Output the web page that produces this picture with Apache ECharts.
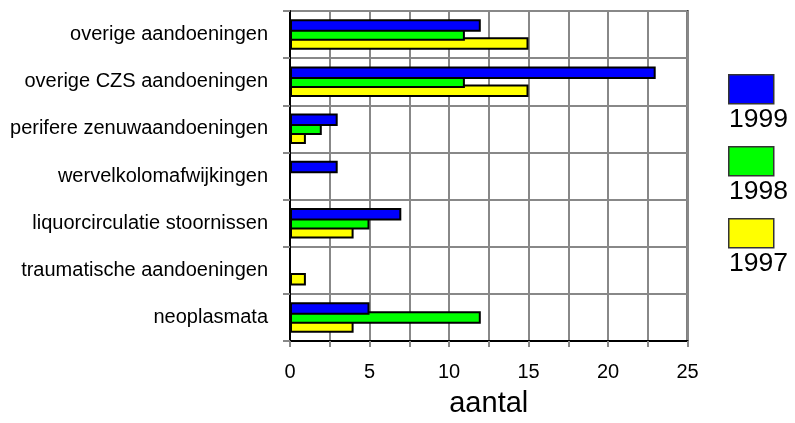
<!DOCTYPE html>
<html>
<head>
<meta charset="utf-8">
<script src="https://cdn.jsdelivr.net/npm/echarts@6/dist/echarts.min.js"></script>
<style>
  html, body { margin: 0; padding: 0; background: #fff; }
  #chart { width: 795px; height: 423px; }
</style>
</head>
<body>
<div id="chart"></div>
<script>
// Categories, listed top to bottom
const categories = [
  'overige aandoeningen',
  'overige CZS aandoeningen',
  'perifere zenuwaandoeningen',
  'wervelkolomafwijkingen',
  'liquorcirculatie stoornissen',
  'traumatische aandoeningen',
  'neoplasmata'
];

// Counts per year, same order as categories
const years = ['1999', '1998', '1997'];
const values1999 = [12, 23, 3, 3, 7, 0, 5];
const values1998 = [11, 11, 2, 0, 5, 0, 12];
const values1997 = [15, 15, 1, 0, 4, 1, 4];
const yearColors = ['#0000ff', '#00ff00', '#ffff00'];

const xTicks = [0, 5, 10, 15, 20, 25];
const xAxisTitle = 'aantal';

const FONT = 'Liberation Sans, Arial, sans-serif';
const seriesValues = [values1999, values1998, values1997];

const chart = echarts.init(document.getElementById('chart'), null, { renderer: 'canvas' });

const series = years.map((y, i) => ({
  name: y,
  type: 'bar',
  data: seriesValues[i],
  barWidth: 12.5,
  barGap: '-28%',
  z: 10 - i,
  itemStyle: { color: yearColors[i], borderColor: '#000', borderWidth: 2 },
  emphasis: { disabled: true },
  animation: false
}));

// Legend: coloured swatch with the year printed beneath it
const legendGraphics = [];
years.forEach((y, i) => {
  const top = 74 + i * 72;
  legendGraphics.push({
    type: 'rect',
    left: 728, top: top,
    shape: { width: 45, height: 29 },
    style: { fill: yearColors[i], stroke: '#333', lineWidth: 1.5 }
  });
  legendGraphics.push({
    type: 'text',
    x: 729, y: top + 46,
    style: {
      text: y, fill: '#000', font: '26.5px ' + FONT,
      textAlign: 'left', textVerticalAlign: 'middle'
    }
  });
});

chart.setOption({
  animation: false,
  textStyle: { fontFamily: FONT },
  grid: {
    left: 290, right: 107.5, top: 11, bottom: 77,
    show: true, borderColor: '#000', borderWidth: 2, backgroundColor: 'transparent'
  },
  xAxis: {
    type: 'value',
    min: 0, max: 25, interval: 2.5,
    name: xAxisTitle,
    nameLocation: 'middle',
    nameGap: 48,
    nameTextStyle: { fontSize: 29, color: '#000', fontFamily: FONT },
    axisLine: { show: true, lineStyle: { color: '#000', width: 2 } },
    axisTick: { show: true, length: 6, lineStyle: { color: '#888', width: 2 } },
    axisLabel: {
      margin: 21, fontSize: 20, color: '#000', fontFamily: FONT,
      formatter: v => (xTicks.indexOf(v) >= 0 ? String(v) : '')
    },
    splitLine: { show: true, lineStyle: { color: '#888', width: 2 } }
  },
  yAxis: {
    type: 'category',
    data: categories,
    inverse: true,
    axisLine: { show: true, lineStyle: { color: '#000', width: 2 } },
    axisTick: { show: true, length: 7, interval: 0, lineStyle: { color: '#888', width: 2 } },
    axisLabel: { margin: 22, fontSize: 20, color: '#000', fontFamily: FONT, interval: 0 },
    splitLine: { show: true, interval: 0, lineStyle: { color: '#888', width: 2 } }
  },
  series: series,
  graphic: legendGraphics
});
</script>
</body>
</html>
